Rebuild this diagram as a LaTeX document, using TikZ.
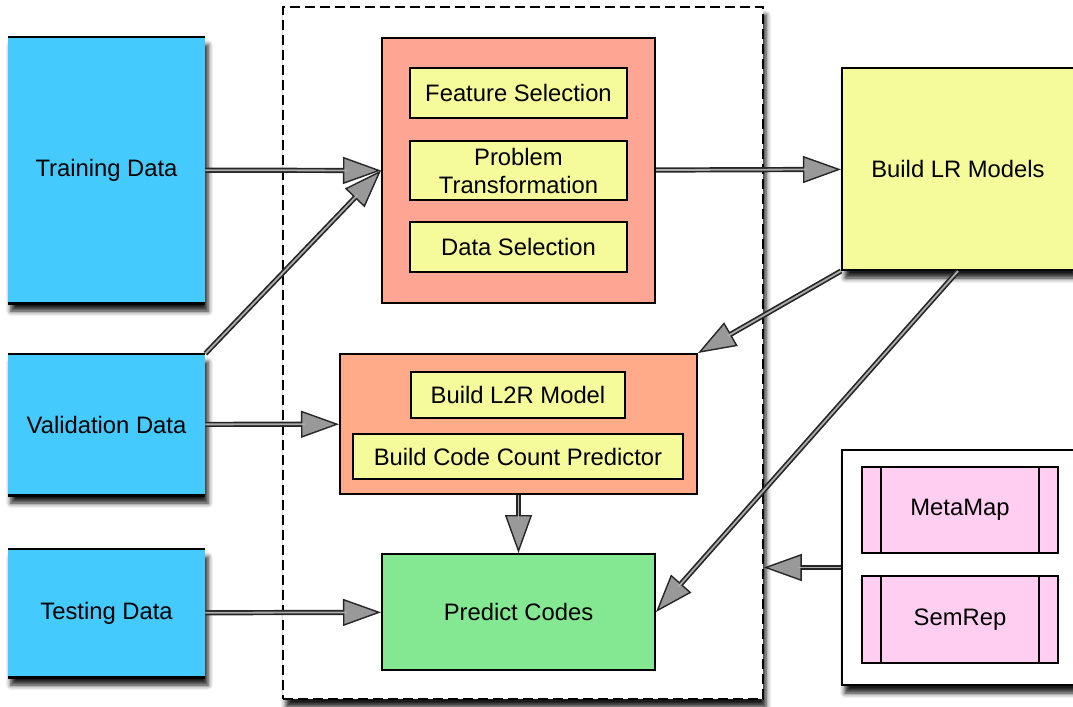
\documentclass[tikz,border=0pt]{standalone}
\usepackage{fontspec}
\setmainfont{Liberation Sans}
\usetikzlibrary{arrows.meta,shadows.blur}

\definecolor{datablue}{RGB}{69,202,253}
\definecolor{prepred}{RGB}{255,165,148}
\definecolor{midorange}{RGB}{255,170,136}
\definecolor{lightyel}{RGB}{245,250,154}
\definecolor{predgreen}{RGB}{132,232,146}
\definecolor{toolpink}{RGB}{255,206,240}

\begin{document}
\begin{tikzpicture}[x=0.5pt,y=-0.5pt,
	font=\fontsize{11.9}{14}\selectfont,
	box/.style={draw, line width=1pt, align=center, inner sep=0pt},
	soft/.style={blur shadow={shadow xshift=1.5pt, shadow yshift=-4pt, shadow blur radius=2.5pt, shadow opacity=90}},
	datablock/.style={fill=datablue, align=center, inner sep=0pt, minimum width=98.5pt, soft},
	task/.style={box, fill=lightyel, minimum width=108.5pt},
	tool/.style={box, fill=toolpink, minimum width=98pt, minimum height=43pt},
	flow/.style={draw=black!85, line width=2.6pt,
		-{Triangle[length=19pt, width=13.5pt, fill=gray!80, line width=0.7pt]},
		postaction={draw=gray!65, line width=0.9pt, -, shorten >=17pt}}]
	\clip (0,0) rectangle (1073,707);

	% input data
	\node[datablock, minimum height=133pt] (train) at (106.5,170) {Training Data};
	\node[datablock, minimum height=70.5pt] (valid) at (106.5,424.5) {Validation Data};
	\node[datablock, minimum height=64pt] (test) at (106.5,613) {Testing Data};
	\foreach \d in {train,valid,test}
	\draw[line width=1.1pt] (\d.north west) -- (\d.north east) (\d.south west) -- (\d.south east);

	% pipeline
	\node[draw, line width=0.8pt, dash pattern=on 5pt off 2.5pt, fill=white, soft,
		minimum width=240pt, minimum height=346pt] (core) at (523,353) {};
	\node[box, fill=prepred, minimum width=136.5pt, minimum height=132.5pt] (prep) at (518.5,170.5) {};
	\node[task, minimum height=25pt] (feat) at (518.5,93) {Feature Selection};
	\node[task, minimum height=29.5pt] (trans) at (518.5,170.5) {Problem\\Transformation};
	\node[task, minimum height=25pt] (dsel) at (518.5,247) {Data Selection};
	\node[box, fill=midorange, minimum width=178.5pt, minimum height=70pt] (mid) at (518.5,424) {};
	\node[task, minimum width=107pt, minimum height=23pt] (l2r) at (518,395) {Build L2R Model};
	\node[task, minimum width=165pt, minimum height=22.5pt] (ccp) at (518,456.5) {Build Code Count Predictor};
	\node[box, fill=predgreen, minimum width=136.5pt, minimum height=58pt] (pred) at (518.5,612) {Predict Codes};

	% models and tools
	\node[box, fill=lightyel, soft, minimum width=116pt, minimum height=101pt] (lr) at (958,169) {Build LR Models};
	\node[box, fill=white, soft, minimum width=116.5pt, minimum height=117.5pt] (tools) at (958.5,567.5) {};
	\node[tool] (mm) at (960,510) {MetaMap};
	\node[tool, minimum height=43.5pt] (sr) at (960,619.5) {SemRep};
	\foreach \t in {mm,sr}
	\draw[line width=1pt] ([xshift=10pt]\t.north west) -- ([xshift=10pt]\t.south west)
		([xshift=-10pt]\t.north east) -- ([xshift=-10pt]\t.south east);

	\path
	(train) edge[flow] (prep.west)
	(valid.north east) edge[flow] (prep.west)
	(valid) edge[flow] (mid)
	(test) edge[flow] (pred)
	(prep) edge[flow] (lr)
	(lr.south west) edge[flow] (mid.north east)
	(lr.south) edge[flow] (pred.east)
	(mid) edge[flow] (pred)
	(tools) edge[flow] (core.east |- tools.west);
\end{tikzpicture}
\end{document}
